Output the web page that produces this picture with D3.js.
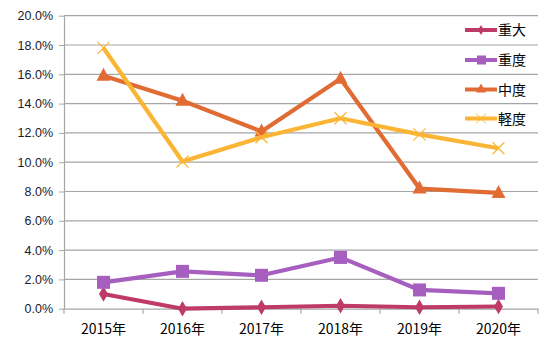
<!DOCTYPE html>
<html><head><meta charset="utf-8">
<script src="https://cdn.jsdelivr.net/npm/d3@7/dist/d3.min.js"></script>
<style>body{margin:0;background:#fff;}svg{display:block;}</style>
</head><body>
<svg id="c" width="560" height="359"></svg>
<script>
const categories = ["2015年","2016年","2017年","2018年","2019年","2020年"];
const seriesNames = ["重大","重度","中度","軽度"];
const juudai = [1.0, 0.0, 0.1, 0.2, 0.1, 0.15];
const juudo = [1.8, 2.55, 2.28, 3.5, 1.28, 1.05];
const chuudo = [15.9, 14.2, 12.1, 15.7, 8.2, 7.9];
const keido = [17.8, 10.05, 11.7, 13.0, 11.9, 10.95];
const yTicks = [0,2,4,6,8,10,12,14,16,18,20];

(function(){
const colors = ["#bf3b67","#a65fbf","#e06c34","#fbb534"];
const symbols = ["diamond","square","triangle","x"];
const allSeries = [juudai, juudo, chuudo, keido];

const svg = d3.select("#c");
const pl = 64, pr = 538, pt = 15.7, pb = 308.7;
const x = d3.scaleBand().domain(categories).range([pl, pr]);
const y = d3.scaleLinear().domain([0,20]).range([pb, pt]);

svg.append("g").selectAll("line").data(yTicks.filter(d=>d>0)).join("line")
  .attr("x1", pl).attr("x2", pr)
  .attr("y1", d=>y(d)).attr("y2", d=>y(d))
  .attr("stroke","#a6a6a6").attr("stroke-width",1.2);

const ya = svg.append("g").attr("transform",`translate(${pl},0)`)
  .call(d3.axisLeft(y).tickValues(yTicks).tickFormat(d=>d.toFixed(1)+"%").tickSize(5).tickSizeOuter(0));
ya.select(".domain").attr("stroke","#a6a6a6").attr("stroke-width",1.2);
ya.selectAll(".tick line").attr("stroke","#a6a6a6");
ya.selectAll("text").attr("font-family","'Liberation Sans', Arial, sans-serif").attr("font-size",12.5)
  .attr("fill","#1a1a2e").attr("x",-11);

const xa = svg.append("g").attr("transform",`translate(0,${pb})`)
  .call(d3.axisBottom(x).tickSize(0).tickSizeOuter(0));
xa.select(".domain").attr("stroke","#a6a6a6").attr("stroke-width",1.2);
xa.selectAll("text").attr("font-family","'Noto Sans CJK JP', sans-serif").attr("font-size",14)
  .attr("fill","#000").attr("dy","0").attr("y",25.5);
svg.append("g").selectAll("line").data(d3.range(categories.length+1)).join("line")
  .attr("x1", i=>pl + i*x.step()).attr("x2", i=>pl + i*x.step())
  .attr("y1", pb).attr("y2", pb+5).attr("stroke","#a6a6a6").attr("stroke-width",1.2);

function marker(g, type, cx, cy, color){
  if(type==="diamond"){
    g.append("path").attr("d",d3.symbol(d3.symbolDiamond,70)()).attr("transform",`translate(${cx},${cy})`).attr("fill",color);
  } else if(type==="square"){
    g.append("rect").attr("x",cx-6.5).attr("y",cy-6.5).attr("width",13).attr("height",13).attr("fill",color);
  } else if(type==="triangle"){
    g.append("path").attr("d",`M${cx},${cy-8}L${cx+7},${cy+5}L${cx-7},${cy+5}Z`).attr("fill",color);
  } else {
    g.append("path").attr("d",`M${cx-6},${cy-6}L${cx+6},${cy+6}M${cx-6},${cy+6}L${cx+6},${cy-6}`).attr("stroke",color).attr("stroke-width",1.2);
  }
}

const line = d3.line().x((d,i)=>x(categories[i])+x.bandwidth()/2).y(d=>y(d));
allSeries.forEach((vals, si)=>{
  const g = svg.append("g");
  g.append("path").datum(vals).attr("d", line).attr("fill","none")
    .attr("stroke", colors[si]).attr("stroke-width",4.2).attr("stroke-linejoin","round");
  vals.forEach((v,i)=> marker(g, symbols[si], x(categories[i])+x.bandwidth()/2, y(v), colors[si]));
});

const lg = svg.append("g");
const legY = [30, 60, 89.5, 118.5];
seriesNames.forEach((n, i)=>{
  const gy = legY[i];
  lg.append("line").attr("x1",465).attr("x2",497).attr("y1",gy).attr("y2",gy)
    .attr("stroke",colors[i]).attr("stroke-width",4);
  if(symbols[i]==="diamond"){
    lg.append("path").attr("d",d3.symbol(d3.symbolDiamond,30)()).attr("transform",`translate(481,${gy})`).attr("fill",colors[i]);
  } else if(symbols[i]==="square"){
    lg.append("rect").attr("x",477).attr("y",gy-4.5).attr("width",9).attr("height",9).attr("fill",colors[i]);
  } else if(symbols[i]==="triangle"){
    lg.append("path").attr("d",`M481,${gy-6}L486,${gy+3}L476,${gy+3}Z`).attr("fill",colors[i]);
  } else {
    lg.append("path").attr("d",`M476,${gy-5}L486,${gy+5}M476,${gy+5}L486,${gy-5}`).attr("stroke",colors[i]).attr("stroke-width",1);
  }
  lg.append("text").attr("x",498).attr("y",gy).attr("dy","0.36em")
    .attr("font-family","'Noto Sans CJK JP', sans-serif").attr("font-size",14).attr("fill","#000").text(n);
});
})();
</script>
</body></html>
